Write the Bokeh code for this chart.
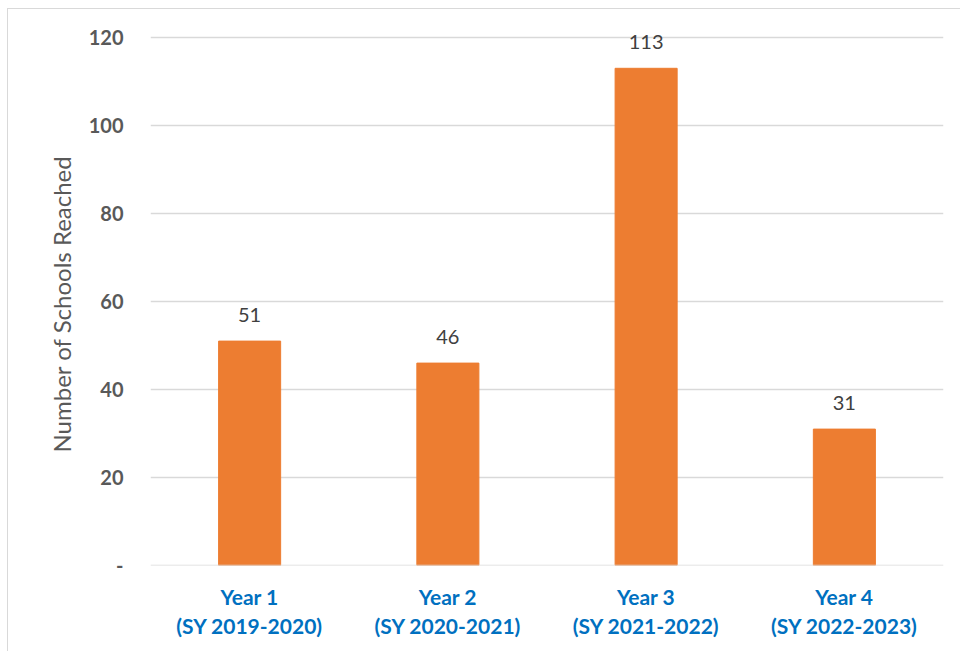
from bokeh.plotting import figure
from bokeh.models import (ColumnDataSource, LabelSet, FixedTicker, Range1d, Span,
                          CategoricalAxis, FactorRange, Title)
from bokeh.core.properties import value
from bokeh.embed import file_html
from bokeh.resources import INLINE

categories = ["Year 1", "Year 2", "Year 3", "Year 4"]
school_years = ["(SY 2019-2020)", "(SY 2020-2021)", "(SY 2021-2022)", "(SY 2022-2023)"]
schools = [51, 46, 113, 31]
y_ticks = [0, 20, 40, 60, 80, 100, 120]
y_title = "Number of Schools Reached"

FONT = "Lato"

src = ColumnDataSource(dict(cat=categories, val=schools,
                            lab=[str(v) for v in schools]))

p = figure(x_range=FactorRange(*categories), y_range=Range1d(0, 125), width=953, height=643,
           output_backend="svg", toolbar_location=None,
           min_border_left=142, min_border_right=18, min_border_top=6, min_border_bottom=87)
p.styles = {"margin-left": "7px", "margin-top": "8px",
            "border-left": "1px solid #d9d9d9", "border-top": "1px solid #d9d9d9"}
p.extra_x_ranges["sy"] = FactorRange(*school_years)

p.vbar(x="cat", top="val", width=0.313, source=src, color="#ED7D31")

p.add_layout(Span(location=0, dimension="width", line_color="#d9d9d9", line_width=1.5))

labels = LabelSet(x="cat", y="val", text="lab", source=src, text_align="center",
                  text_baseline="bottom", y_offset=19, text_font=value(FONT),
                  text_font_size="20px", text_color="#404040")
p.add_layout(labels)

p.outline_line_color = None
p.xgrid.grid_line_color = None
p.ygrid.grid_line_color = "#d9d9d9"
p.ygrid.grid_line_width = 1.5
p.yaxis.ticker = FixedTicker(ticks=y_ticks)
p.yaxis.major_label_overrides = {0: "-"}
p.yaxis.axis_line_color = None
p.yaxis.major_tick_line_color = None
p.yaxis.minor_tick_line_color = None
p.yaxis.major_tick_out = 0
p.yaxis.major_tick_in = 0
p.yaxis.major_label_text_font = FONT
p.yaxis.major_label_text_font_style = "bold"
p.yaxis.major_label_text_font_size = "20px"
p.yaxis.major_label_text_color = "#595959"
p.yaxis.major_label_standoff = 27

ytitle = Title(text=y_title, align="left", text_font=FONT, text_font_style="normal",
               text_font_size="24px", text_color="#595959", offset=113, standoff=20)
p.add_layout(ytitle, "left")

sy_axis = CategoricalAxis(x_range_name="sy")
p.add_layout(sy_axis, "below")

for ax in p.xaxis:
    ax.axis_line_color = None
    ax.major_tick_line_color = None
    ax.minor_tick_line_color = None
    ax.major_tick_out = 0
    ax.major_tick_in = 0
    ax.major_label_text_font = FONT
    ax.major_label_text_font_style = "bold"
    ax.major_label_text_font_size = "21px"
    ax.major_label_text_color = "#0070C0"
    ax.major_label_orientation = "horizontal"
p.xaxis[0].major_label_standoff = 18
sy_axis.major_label_standoff = 1

open("out.html", "w").write(file_html(p, INLINE))
